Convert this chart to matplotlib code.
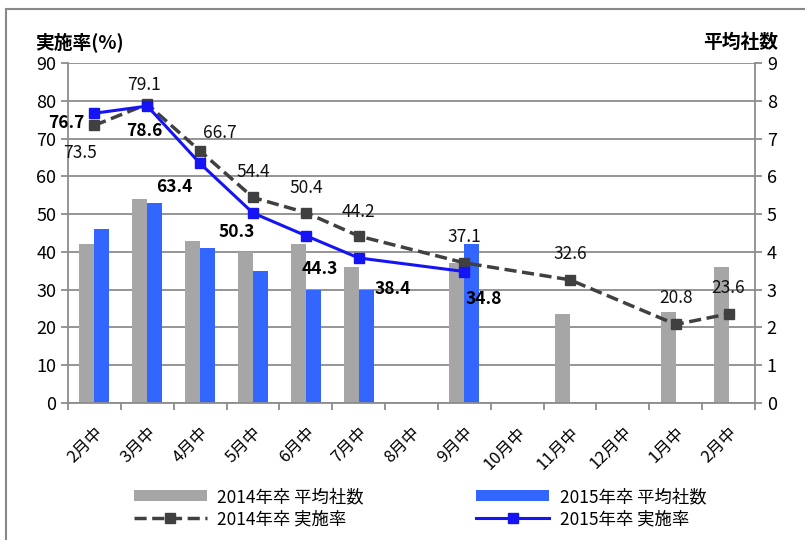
import numpy as np
import matplotlib
matplotlib.use("Agg")
import matplotlib.pyplot as plt
from matplotlib.patches import Rectangle

plt.rcParams['font.family'] = ['Noto Sans CJK JP', 'DejaVu Sans']

months = ["2月中", "3月中", "4月中", "5月中", "6月中", "7月中", "8月中",
          "9月中", "10月中", "11月中", "12月中", "1月中", "2月中"]
nan = np.nan
# 平均社数 (right axis)
cnt_2014 = [4.2, 5.4, 4.3, 4.0, 4.2, 3.6, nan, 3.7, nan, 2.35, nan, 2.4, 3.6]
cnt_2015 = [4.6, 5.3, 4.1, 3.5, 3.0, 3.0, nan, 4.2, nan, nan, nan, nan, nan]
# 実施率 (left axis)
rate_2014 = [73.5, 79.1, 66.7, 54.4, 50.4, 44.2, nan, 37.1, nan, 32.6, nan, 20.8, 23.6]
rate_2015 = [76.7, 78.6, 63.4, 50.3, 44.3, 38.4, nan, 34.8, nan, nan, nan, nan, nan]

# label offsets in pixels (dx, dy) relative to each point
off_2014 = [(-14, -28), (-3, 19), (20, 18), (0, 25), (0, 25), (0, 24), None,
            (0, 26), None, (0, 26), None, (0, 26), (0, 26)]
off_2015 = [(-28, -10), (-3, -25), (-26, -24), (-16, -19), (14, -33), (34, -31),
            None, (19, -27), None, None, None, None, None]

GRAY_BAR = '#A6A6A6'
BLUE_BAR = '#3366FF'
GRAY_LINE = '#404040'
BLUE_LINE = '#1414F5'
AX_COL = '#8C8C8C'

fig = plt.figure(figsize=(8.05, 5.4), dpi=100)
W, H = 805, 540
ax = fig.add_axes([68 / W, 1 - 403 / H, (755 - 68) / W, (403 - 63) / H])
ax2 = ax.twinx()
# bars axis goes behind the lines axis
ax2.set_zorder(ax.get_zorder() - 1)
ax.patch.set_visible(False)

x = np.arange(len(months))
bw = 0.285

# bars on the right axis
ax2.bar(x - bw / 2, cnt_2014, bw, color=GRAY_BAR, label='2014年卒 平均社数', zorder=2)
ax2.bar(x + bw / 2, cnt_2015, bw, color=BLUE_BAR, label='2015年卒 平均社数', zorder=2)
ax2.set_ylim(0, 9)
ax2.set_yticks(range(0, 10))
ax2.yaxis.grid(True, color=AX_COL, lw=1.3)
ax2.set_axisbelow(True)

# lines on the left axis
r14 = np.array(rate_2014)
r15 = np.array(rate_2015)
m14 = ~np.isnan(r14)
m15 = ~np.isnan(r15)
ax.plot(x[m14], r14[m14], color=GRAY_LINE, lw=2.5, ls=(0, (3.5, 1.6)),
        marker='s', ms=7, label='2014年卒 実施率', zorder=3)
ax.plot(x[m15], r15[m15], color=BLUE_LINE, lw=2.2, marker='s', ms=7,
        label='2015年卒 実施率', zorder=4)

for i in range(len(months)):
    if off_2014[i] is not None:
        dx, dy = off_2014[i]
        ax.annotate(f"{rate_2014[i]:.1f}", (x[i], rate_2014[i]), xytext=(dx, dy),
                    textcoords='offset pixels', ha='center', va='center',
                    fontsize=12.5, color='#111111', zorder=5)
    if off_2015[i] is not None:
        dx, dy = off_2015[i]
        ax.annotate(f"{rate_2015[i]:.1f}", (x[i], rate_2015[i]), xytext=(dx, dy),
                    textcoords='offset pixels', ha='center', va='center',
                    fontsize=12.5, fontweight='bold', color='#000000', zorder=5)

# left axis
ax.set_ylim(0, 90)
ax.set_yticks(range(0, 100, 10))
ax.set_xlim(-0.5, len(months) - 0.5)
ax.set_xticks(np.arange(-0.5, len(months), 1.0))
ax.set_xticklabels([])
ax.set_xticks(x, minor=True)
ax.set_xticklabels(months, minor=True, rotation=45, ha='right', va='top',
                   rotation_mode='anchor', fontsize=12)
ax.tick_params(axis='x', which='major', length=5, color=AX_COL, width=1.3)
ax.tick_params(axis='x', which='minor', length=0, pad=15)
ax.tick_params(axis='y', length=5, color=AX_COL, width=1.3, labelsize=13)
ax2.tick_params(axis='y', length=5, color=AX_COL, width=1.3, labelsize=13)

for a in (ax, ax2):
    for s in a.spines.values():
        s.set_visible(False)
ax.spines['left'].set_visible(True)
ax.spines['left'].set_color(AX_COL)
ax.spines['left'].set_linewidth(1.3)
ax.spines['bottom'].set_visible(True)
ax.spines['bottom'].set_color(AX_COL)
ax.spines['bottom'].set_linewidth(1.3)
ax2.spines['right'].set_visible(True)
ax2.spines['right'].set_color(AX_COL)
ax2.spines['right'].set_linewidth(1.3)

fig.text(35 / W, 1 - 42 / H, '実施率(%)', fontsize=13.5, fontweight='bold',
         ha='left', va='center')
fig.text(778 / W, 1 - 42 / H, '平均社数', fontsize=13.5, fontweight='bold',
         ha='right', va='center')

# legend
h1, l1 = ax2.get_legend_handles_labels()
h2, l2 = ax.get_legend_handles_labels()
handles = [h1[0], h2[0], h1[1], h2[1]]
labels = [l1[0], l2[0], l1[1], l2[1]]
fig.legend(handles, labels, ncol=2, loc='center', bbox_to_anchor=(420 / W, 1 - 508 / H),
           frameon=False, fontsize=12.5, handlelength=4.2, handleheight=0.6,
           columnspacing=6.5, labelspacing=0.25, handletextpad=0.6)

# outer frame
fig.patches.append(Rectangle((6 / W, -0.01), 1.0, 1 - 9 / H + 0.01, transform=fig.transFigure,
                             fill=False, edgecolor='#888888', lw=1.5))

fig.savefig('out.png', dpi=100)
